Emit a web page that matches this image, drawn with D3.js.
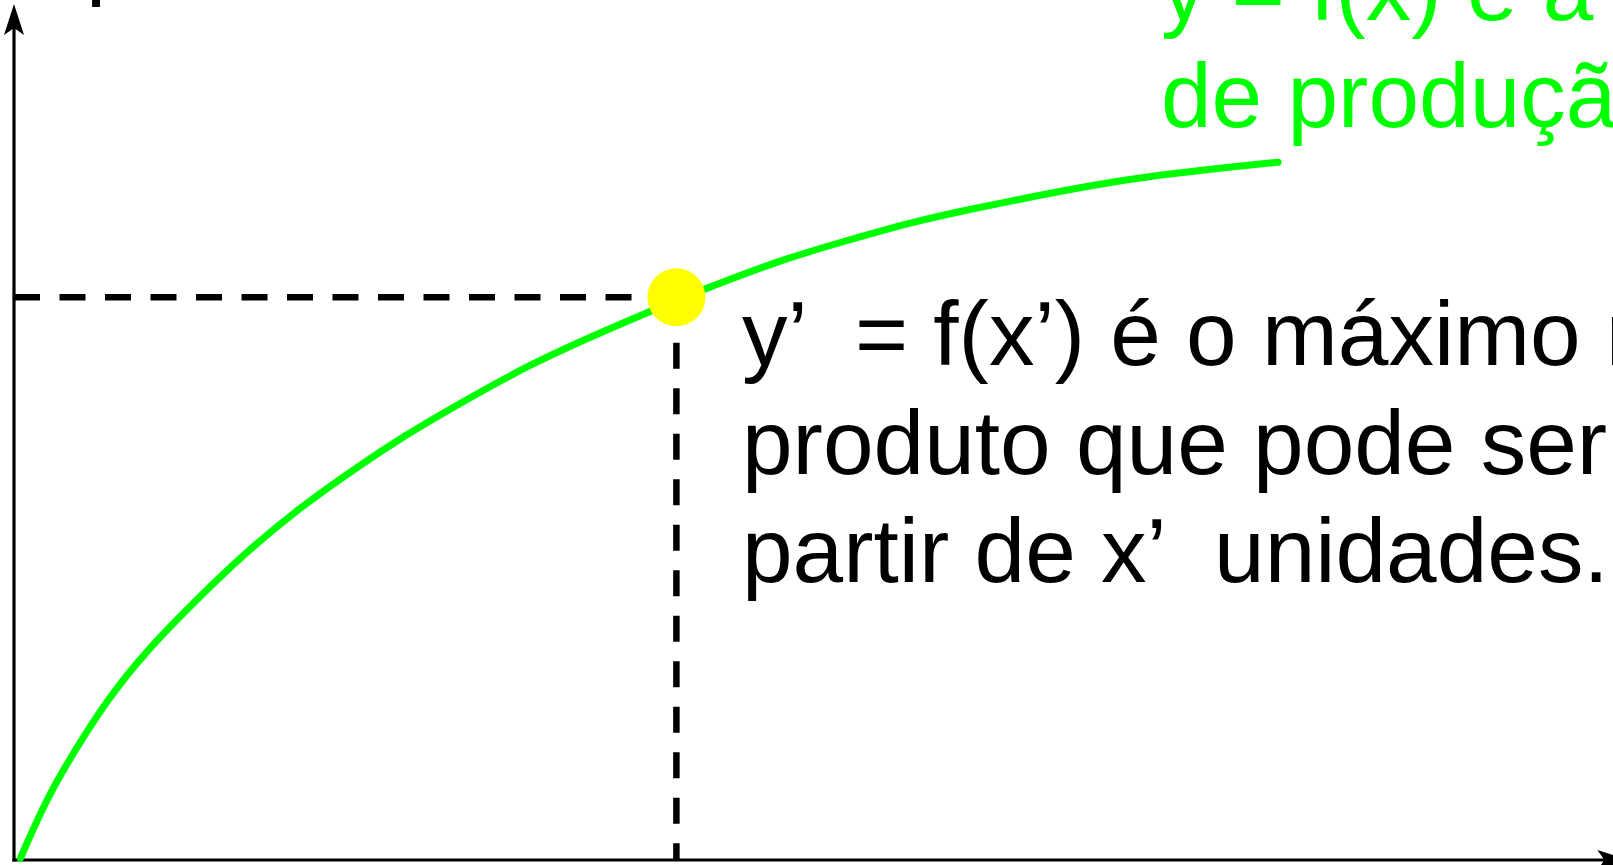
<!DOCTYPE html>
<html>
<head>
<meta charset="utf-8">
<script src="https://cdn.jsdelivr.net/npm/d3@7"></script>
<style>
  html, body { margin: 0; padding: 0; background: #fff; overflow: hidden; }
  svg { display: block; }
  text { font-family: "Liberation Sans", Arial, sans-serif; white-space: pre; }
</style>
</head>
<body>
<div id="chart"></div>
<script>
// Production function y = f(x) (input units 0-100)
const inputX  = [0.4, 2.0, 3.8, 5.8, 8.3, 11.4, 14.3, 17.9, 20.6, 23.7, 27.1, 32.4, 36.6, 41.4,
                 43.1, 47.9, 52.1, 56.2, 60.4, 63.3, 67.4, 71.6, 75.8, 79.0];
const outputY = [0.2, 7.1, 12.9, 18.8, 24.7, 30.6, 35.9, 41.5, 45.1, 49.1, 52.9, 58.5, 62.0, 65.9,
                 67.1, 70.6, 72.9, 75.1, 76.8, 77.9, 79.4, 80.6, 81.5, 82.1];

// the highlighted point (x', y')
const optimumX = [41.4];
const optimumY = [66.2];

const noteLines  = ['y’  = f(x’) é o máximo nível de', 'produto que pode ser obtido a', 'partir de x’  unidades.'];
const curveLines = ['y = f(x) é a função', 'de produção'];
const yAxisLabel = ['produto'];

function drawChart() {
    const width = 1613, height = 865;

    const svg = d3.select('#chart').append('svg')
        .attr('width', width)
        .attr('height', height);

    // Scales - origin sits at bottom-left of the window
    const x = d3.scaleLinear().domain([0, 100]).range([14, 1614]);
    const y = d3.scaleLinear().domain([0, 100]).range([860, 10]);

    const green = '#00ff00';

    // Axes with arrow heads
    const xEnd = x(100.9), yEnd = y(100.7);
    const arrow = 'M0,0 L-31,-10 L-24,0 L-31,10 Z';

    svg.append('line')
        .attr('x1', x(0) - 1.5).attr('y1', y(0))
        .attr('x2', xEnd - 20).attr('y2', y(0))
        .attr('stroke', '#000').attr('stroke-width', 3.2);
    svg.append('path')
        .attr('d', arrow)
        .attr('transform', `translate(${xEnd},${y(0)})`)
        .attr('fill', '#000');

    svg.append('line')
        .attr('x1', x(0)).attr('y1', y(0) + 1.5)
        .attr('x2', x(0)).attr('y2', yEnd + 20)
        .attr('stroke', '#000').attr('stroke-width', 3.2);
    svg.append('path')
        .attr('d', arrow)
        .attr('transform', `translate(${x(0)},${yEnd}) rotate(-90)`)
        .attr('fill', '#000');

    // axis label, only its tail shows at the top edge
    svg.append('text')
        .attr('x', 86)
        .attr('y', -12)
        .style('font-size', '90px')
        .style('fill', '#000')
        .text(yAxisLabel[0]);

    // Dashed guides to the point
    const px = x(optimumX[0]), py = y(optimumY[0]);
    svg.append('line')
        .attr('x1', x(0)).attr('y1', py)
        .attr('x2', px).attr('y2', py)
        .attr('stroke', '#000')
        .attr('stroke-width', 6.5)
        .attr('stroke-dasharray', '26,19.5');
    svg.append('line')
        .attr('x1', px).attr('y1', py)
        .attr('x2', px).attr('y2', y(0))
        .attr('stroke', '#000')
        .attr('stroke-width', 6.5)
        .attr('stroke-dasharray', '26,19.5');

    // Production curve
    const pts = inputX.map((d, i) => [d, outputY[i]]);
    const line = d3.line()
        .x(d => x(d[0]))
        .y(d => y(d[1]))
        .curve(d3.curveBasis);

    svg.append('path')
        .datum(pts)
        .attr('d', line)
        .attr('fill', 'none')
        .attr('stroke', green)
        .attr('stroke-width', 7)
        .attr('stroke-linecap', 'round');

    // The point
    svg.append('circle')
        .attr('cx', px)
        .attr('cy', py)
        .attr('r', 29)
        .attr('fill', '#ffff00');

    // Note next to the point
    svg.selectAll('.note')
        .data(noteLines)
        .enter()
        .append('text')
        .attr('class', 'note')
        .attr('x', 742)
        .attr('y', (d, i) => 365 + i * 108.5)
        .style('font-size', '91px')
        .style('fill', '#000')
        .text(d => d);

    // Curve label, top right
    svg.selectAll('.curve-label')
        .data(curveLines)
        .enter()
        .append('text')
        .attr('class', 'curve-label')
        .attr('x', 1161)
        .attr('y', (d, i) => 20 + i * 107)
        .style('font-size', '91px')
        .style('fill', green)
        .text(d => d);
}

drawChart();
</script>
</body>
</html>
